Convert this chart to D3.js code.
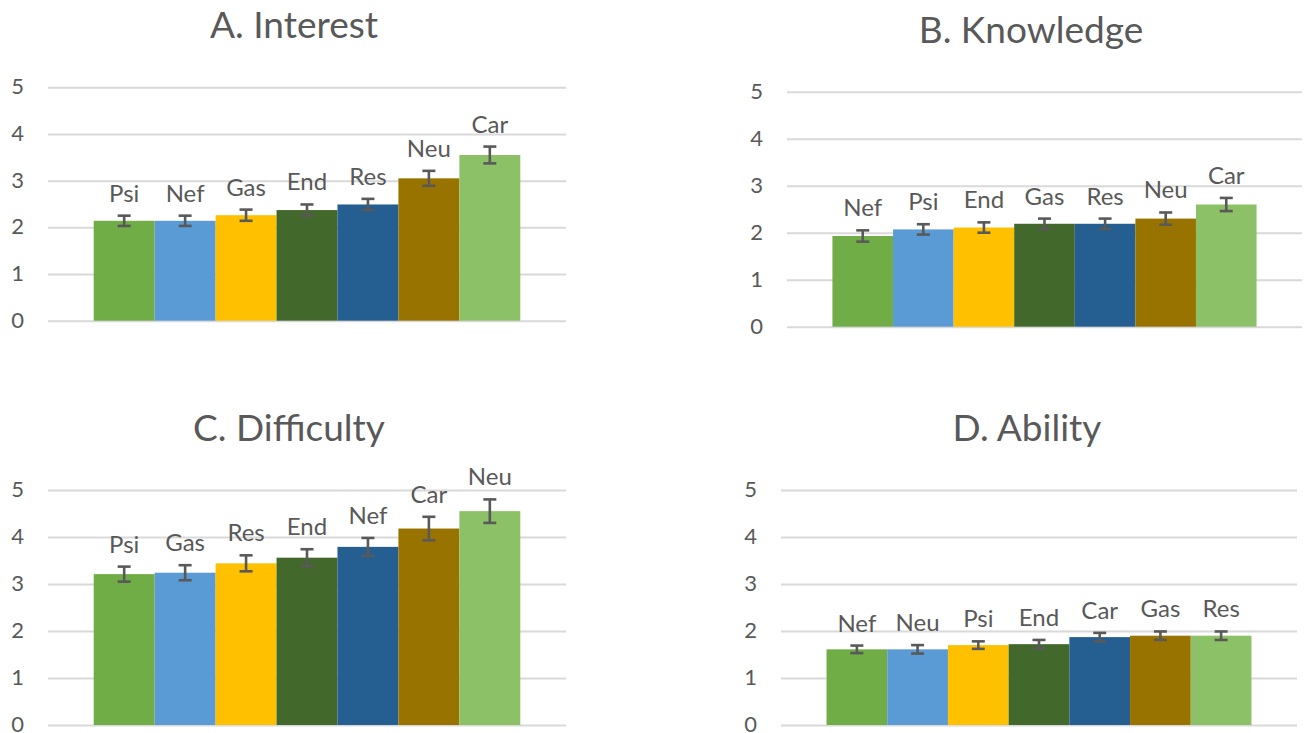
<!DOCTYPE html>
<html>
<head>
<meta charset="utf-8">
<script src="https://cdn.jsdelivr.net/npm/d3@7"></script>
<style>
  html, body { margin: 0; padding: 0; background: #fff; }
  svg { display: block; font-family: Lato, "Open Sans", sans-serif; }
</style>
</head>
<body>
<svg id="chart" width="1304" height="733"></svg>
<script>
// Mean ratings (with standard errors) per topic, four rating dimensions.
const titles = ["A. Interest", "B. Knowledge", "C. Difficulty", "D. Ability"];

const interestCats = ["Psi", "Nef", "Gas", "End", "Res", "Neu", "Car"];
const interestMeans = [2.14, 2.14, 2.26, 2.37, 2.49, 3.05, 3.55];
const interestErrs = [0.11, 0.11, 0.12, 0.12, 0.12, 0.16, 0.18];

const knowledgeCats = ["Nef", "Psi", "End", "Gas", "Res", "Neu", "Car"];
const knowledgeMeans = [1.93, 2.07, 2.11, 2.19, 2.19, 2.30, 2.60];
const knowledgeErrs = [0.12, 0.11, 0.11, 0.11, 0.11, 0.13, 0.14];

const difficultyCats = ["Psi", "Gas", "Res", "End", "Nef", "Car", "Neu"];
const difficultyMeans = [3.21, 3.24, 3.44, 3.56, 3.79, 4.18, 4.55];
const difficultyErrs = [0.16, 0.16, 0.17, 0.18, 0.19, 0.25, 0.25];

const abilityCats = ["Nef", "Neu", "Psi", "End", "Car", "Gas", "Res"];
const abilityMeans = [1.61, 1.61, 1.70, 1.72, 1.87, 1.90, 1.90];
const abilityErrs = [0.08, 0.09, 0.08, 0.09, 0.09, 0.09, 0.09];

const tickValues = [0, 1, 2, 3, 4, 5];

// Fill colour by bar position (left to right).
const palette = ["#70AD47", "#5B9BD5", "#FFC000", "#43682B", "#255E91", "#997300", "#8CC168"];

// Panel geometry: plot area and title placement.
const layout = [
  { x0: 48,  x1: 566,  yTop: 87.3, yBot: 320.7, tx: 294,  ty: 38 },
  { x0: 787, x1: 1302, yTop: 91.7, yBot: 326.7, tx: 1031, ty: 43 },
  { x0: 48,  x1: 566,  yTop: 490,  yBot: 725,   tx: 289,  ty: 441 },
  { x0: 781, x1: 1297, yTop: 490,  yBot: 725,   tx: 1027, ty: 441 }
];

const panels = [
  { cats: interestCats, means: interestMeans, errs: interestErrs },
  { cats: knowledgeCats, means: knowledgeMeans, errs: knowledgeErrs },
  { cats: difficultyCats, means: difficultyMeans, errs: difficultyErrs },
  { cats: abilityCats, means: abilityMeans, errs: abilityErrs }
];

const textColor = "#595959";
const gridColor = "#D9D9D9";
const svg = d3.select("#chart");

panels.forEach((p, i) => {
  const L = layout[i];
  const g = svg.append("g");

  const y = d3.scaleLinear().domain([0, 5]).range([L.yBot, L.yTop]);
  const x = d3.scaleBand()
    .domain(p.cats)
    .range([L.x0, L.x1])
    .paddingInner(0)
    .paddingOuter(0.75);

  // Title
  g.append("text")
    .attr("x", L.tx).attr("y", L.ty)
    .attr("text-anchor", "middle")
    .attr("font-size", 37)
    .attr("fill", textColor)
    .text(titles[i]);

  // Value axis with gridlines spanning the plot area
  const axis = d3.axisLeft(y)
    .tickValues(tickValues)
    .tickFormat(d3.format("d"))
    .tickSize(-(L.x1 - L.x0))
    .tickPadding(24);
  const ax = g.append("g")
    .attr("transform", `translate(${L.x0},0)`)
    .call(axis);
  ax.select(".domain").remove();
  ax.selectAll(".tick line").attr("stroke", gridColor).attr("stroke-width", 2);
  ax.selectAll(".tick text")
    .attr("fill", textColor)
    .attr("font-size", 22)
    .attr("dy", "0.3em")
    .attr("font-family", "Lato, 'Open Sans', sans-serif");

  const rows = p.cats.map((c, k) => ({ cat: c, mean: p.means[k], err: p.errs[k], idx: k }));

  // Bars
  g.selectAll("rect.bar").data(rows).join("rect")
    .attr("class", "bar")
    .attr("x", d => x(d.cat))
    .attr("width", x.bandwidth())
    .attr("y", d => y(d.mean))
    .attr("height", d => y(0) - y(d.mean))
    .attr("fill", d => palette[d.idx]);

  // Error bars
  const cap = 6.5;
  const eb = g.selectAll("g.err").data(rows).join("g")
    .attr("class", "err")
    .attr("stroke", "#595959")
    .attr("stroke-width", 2.6);
  eb.append("line")
    .attr("x1", d => x(d.cat) + x.bandwidth() / 2)
    .attr("x2", d => x(d.cat) + x.bandwidth() / 2)
    .attr("y1", d => y(d.mean - d.err))
    .attr("y2", d => y(d.mean + d.err));
  eb.append("line")
    .attr("x1", d => x(d.cat) + x.bandwidth() / 2 - cap)
    .attr("x2", d => x(d.cat) + x.bandwidth() / 2 + cap)
    .attr("y1", d => y(d.mean + d.err))
    .attr("y2", d => y(d.mean + d.err));
  eb.append("line")
    .attr("x1", d => x(d.cat) + x.bandwidth() / 2 - cap)
    .attr("x2", d => x(d.cat) + x.bandwidth() / 2 + cap)
    .attr("y1", d => y(d.mean - d.err))
    .attr("y2", d => y(d.mean - d.err));

  // Category labels above each bar
  g.selectAll("text.lbl").data(rows).join("text")
    .attr("class", "lbl")
    .attr("x", d => x(d.cat) + x.bandwidth() / 2)
    .attr("y", d => y(d.mean + d.err) - 14)
    .attr("text-anchor", "middle")
    .attr("font-size", 24)
    .attr("fill", textColor)
    .text(d => d.cat);
});
</script>
</body>
</html>
